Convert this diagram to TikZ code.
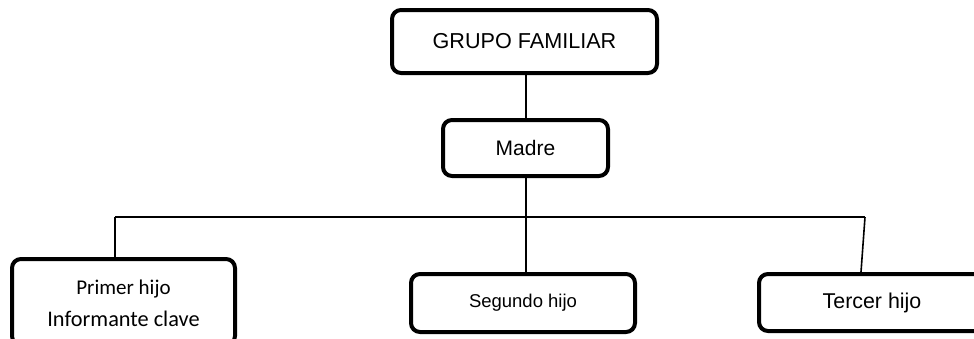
\documentclass[tikz,border=0pt]{standalone}
\usepackage{fontspec}
\setmainfont{Liberation Sans}
\newfontfamily\calib{Carlito}
\begin{document}
\begin{tikzpicture}[x=1pt,y=-1pt,
  box/.style={draw, line width=4pt, rounded corners=9pt, align=center, inner sep=0pt},
  conn/.style={line width=1.6pt}]
\useasboundingbox (0,0) rectangle (974,338);
\clip (0,0) rectangle (974,338);
\node[box, minimum width=265pt, minimum height=63pt, font=\fontsize{21.6}{25}\selectfont] (gf) at (524.5,41.5) {GRUPO FAMILIAR};
\node[box, minimum width=165pt, minimum height=56pt, font=\fontsize{21}{25}\selectfont] (madre) at (525.5,148) {Madre};
\node[box, minimum width=223pt, minimum height=86pt] (primer) at (123.5,302) {};
\node[font=\calib\fontsize{21}{24}\selectfont] (p1) at (123.5,289) {Primer hijo};
\node[font=\calib\fontsize{22.3}{26}\selectfont] (p2) at (123.5,319) {Informante clave};
\node[box, minimum width=224pt, minimum height=58pt, font=\fontsize{18.5}{22}\selectfont] (segundo) at (523,303) {Segundo hijo};
\node[box, minimum width=226pt, minimum height=57pt, font=\fontsize{21.4}{25}\selectfont] (tercer) at (872,302.5) {Tercer hijo};
\coordinate (hl) at (115,217);
\coordinate (hr) at (865,217);
\coordinate (t3) at (861,272);
\draw[conn] (gf.south -| 526,0) -- (madre.north -| 526,0);
\draw[conn] (madre.south -| 526,0) -- (segundo.north -| 526,0);
\draw[conn] (hl) -- (hr);
\draw[conn] (hl) -- (hl |- primer.north);
\draw[conn] (hr) -- (t3);
\end{tikzpicture}
\end{document}
